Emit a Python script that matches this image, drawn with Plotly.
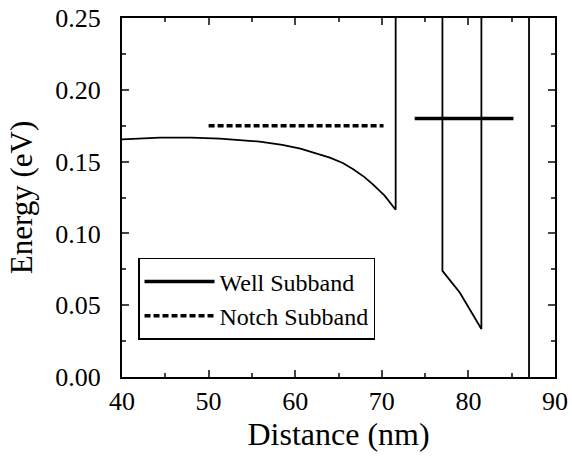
import plotly.graph_objects as go

# Conduction band profile
profile_x = [40, 44.4, 48, 51.3, 55.9, 58.5, 60.6, 62.5, 64.0, 65.5, 66.7, 68.0,
             69.0, 70.3, 71.3, 71.6, 71.6,
             77.0, 77.0, 79.0, 81.5, 81.5, 87.0, 87.0]
profile_y = [0.1655, 0.1667, 0.1667, 0.166, 0.1639, 0.1617, 0.159, 0.1558, 0.1528,
             0.1490, 0.1446, 0.1392, 0.134, 0.1265, 0.119, 0.1165, 0.30,
             0.30, 0.0739, 0.0589, 0.0334, 0.30, 0.30, -0.05]

# Subband levels
well_x = [73.8, 85.2]
well_y = [0.18, 0.18]
notch_x = [50.0, 70.2]
notch_y = [0.175, 0.175]

FONT = "Liberation Serif"

fig = go.Figure()
fig.add_trace(go.Scatter(x=profile_x, y=profile_y, mode="lines",
                         line=dict(color="black", width=1.8), showlegend=False))
fig.add_trace(go.Scatter(x=well_x, y=well_y, mode="lines", name="Well Subband",
                         line=dict(color="black", width=3.5)))
fig.add_trace(go.Scatter(x=notch_x, y=notch_y, mode="lines", name="Notch Subband",
                         line=dict(color="black", width=3.5, dash="6px,3px")))

fig.update_layout(
    width=572, height=459,
    margin=dict(l=122, r=17, t=18, b=82),
    paper_bgcolor="white", plot_bgcolor="white",
    font=dict(family=FONT, color="black", size=26),
    legend=dict(x=0.037, y=0.3315, xanchor="left", yanchor="top",
                bordercolor="black", borderwidth=1.5, bgcolor="white",
                font=dict(family=FONT, size=24), itemwidth=70,
                tracegroupgap=0),
)
fig.update_xaxes(
    range=[40, 90], tick0=40, dtick=10, ticks="inside", ticklen=7, tickwidth=1.5,
    minor=dict(dtick=5, ticks="inside", ticklen=4, tickwidth=1.5),
    showline=True, linecolor="black", linewidth=2, mirror="ticks",
    showgrid=False, zeroline=False, automargin=False, ticklabeloverflow="allow",
    title=dict(text="Distance (nm)", font=dict(size=32), standoff=4),
    tickfont=dict(size=26),
)
fig.update_yaxes(
    range=[0, 0.25], tick0=0, dtick=0.05, tickformat=".2f", ticks="inside",
    ticklen=7, tickwidth=1.5,
    minor=dict(dtick=0.025, ticks="inside", ticklen=4, tickwidth=1.5),
    showline=True, linecolor="black", linewidth=2, mirror="ticks",
    showgrid=False, zeroline=False, ticklabelstandoff=14, automargin=False,
    ticklabeloverflow="allow",
    title=dict(text="Energy (eV)", font=dict(size=31), standoff=13),
    tickfont=dict(size=26),
)

# remove the browser's default 8px page margin so the figure fills the window
fig.write_html("out.html", config={"displayModeBar": False},
               post_script="document.body.style.margin='0';")
